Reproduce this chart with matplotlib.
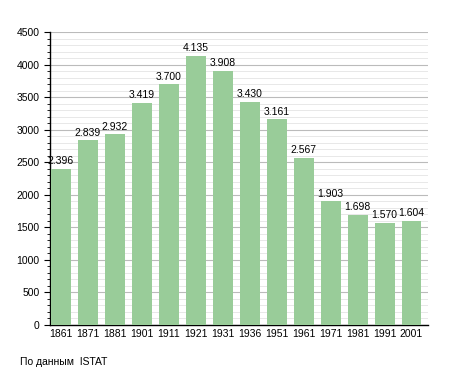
import matplotlib.pyplot as plt
import numpy as np
from matplotlib.ticker import MultipleLocator

# Dati: popolazione per anno di censimento
anni = ["1861", "1871", "1881", "1901", "1911", "1921", "1931",
        "1936", "1951", "1961", "1971", "1981", "1991", "2001"]
abitanti = [2396, 2839, 2932, 3419, 3700, 4135, 3908,
            3430, 3161, 2567, 1903, 1698, 1570, 1604]

plt.rcParams["font.family"] = ["Liberation Sans", "DejaVu Sans"]

fig = plt.figure(figsize=(4.55, 3.73), dpi=100)
ax = fig.add_axes([0.11, 0.1287, 0.83, 0.785])

x = np.arange(len(anni))
ax.bar(x, abitanti, width=0.74, color="#99cc99", zorder=3)

# etichette sopra le barre, con il punto come separatore
for xi, v in zip(x, abitanti):
    ax.text(xi, v + 40, f"{v:,}".replace(",", "."), ha="center", va="bottom",
            fontsize=7.5, color="black", zorder=4)

ax.set_xlim(-0.4, len(anni) - 0.4)
ax.set_ylim(0, 4500)
ax.set_xticks(x)
ax.set_xticklabels(anni)
ax.yaxis.set_major_locator(MultipleLocator(500))
ax.yaxis.set_minor_locator(MultipleLocator(100))

# griglia principale e secondaria
ax.grid(axis="y", which="major", color="#bbbbbb", linewidth=0.8, zorder=0)
ax.grid(axis="y", which="minor", color="#e4e4e4", linewidth=0.6, zorder=0)

for s in ["top", "right"]:
    ax.spines[s].set_visible(False)
ax.spines["left"].set_linewidth(1.0)
ax.spines["bottom"].set_linewidth(1.0)

ax.tick_params(axis="x", length=0, labelsize=7.5, pad=3)
ax.tick_params(axis="y", which="major", length=4, labelsize=7.5)
ax.tick_params(axis="y", which="minor", length=2)

fig.text(0.044, 0.03, "По данным  ISTAT", fontsize=7.5, ha="left", va="center")

fig.savefig("out.png", dpi=100)
